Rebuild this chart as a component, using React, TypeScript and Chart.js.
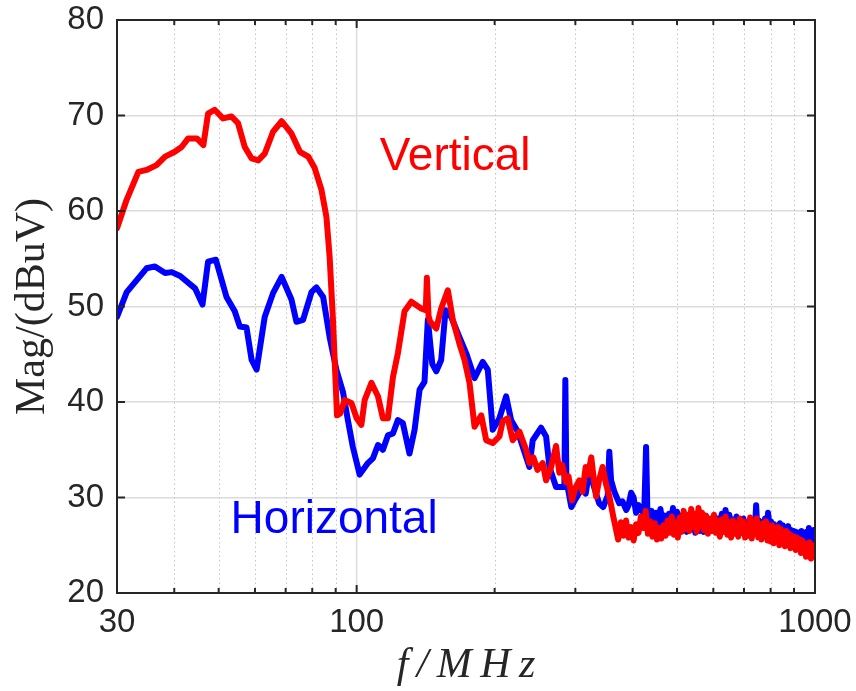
import { useEffect, useRef } from 'react';
import { Chart, registerables } from 'chart.js';

Chart.register(...registerables);

// Vertical polarisation (red)
const vertFreq = [
  30, 31.5, 33.4, 34.8, 36.6, 38.2, 40.1, 41.5, 42.9, 44.8, 46.3, 47.4, 49.0, 51.1, 53.3, 55.1, 57.0, 59.0,
  61.0, 63.0, 65.7, 68.6, 72.1, 75.2, 78.4, 81.0, 83.8, 85.9, 87.3, 88.8, 90.6, 92.1, 94.1, 97.4, 100,
  102.4, 104.1, 107.7, 111.3, 114.1, 117.0, 120.0, 123.0, 127.2, 131.6, 138.3, 141.5, 142.3, 143.5, 144.7,
  149.2, 152.9, 158.1, 162.1, 167.6, 171.9, 176.3, 180.8, 187.0, 191.7, 198.1, 204.9, 208.3, 213.6, 219.0,
  226.5, 234.3, 238.2, 243.0, 248.0, 254.6, 259.0, 265.0, 272.3, 276.8, 281.0, 286.0, 290.0, 295.0, 300.0,
  306.0, 311.0, 316.0, 320.0, 325.0, 329.0, 333.0, 338.0, 344.0, 350.0, 356.0, 363.0,
  372, 377, 382, 387, 392, 397, 402, 407, 412, 417, 422, 427, 432, 437, 442, 447, 452, 457, 462, 467,
  472, 477, 482, 487, 492, 497, 502, 507, 512, 517, 522, 527, 532, 537, 542, 547, 552, 557, 562, 567,
  572, 578, 584, 590, 596, 602, 608, 614, 620, 626, 632, 638, 644, 650, 656, 662, 668, 674, 680, 686,
  692, 698, 704, 710, 716, 722, 728, 734, 740, 746, 752, 758, 764, 770, 776, 782, 788, 794, 800, 806,
  812, 818, 824, 830, 836, 842, 848, 854, 860, 866, 872, 878, 884, 890, 896, 902, 908, 914, 920, 926,
  932, 938, 944, 950, 956, 962, 968, 974, 980, 986, 992, 996, 1000,
];
const vertMag = [
  58.2, 61.2, 64.1, 64.3, 64.8, 65.7, 66.2, 66.7, 67.6, 67.6, 66.9, 70.2, 70.6, 69.7, 69.9, 69.2, 66.7, 65.5,
  65.3, 66.0, 68.3, 69.4, 68.1, 66.2, 65.7, 64.5, 62.2, 59.4, 55.2, 48.5, 38.6, 38.8, 40.2, 39.9, 38.3,
  37.6, 40.2, 42.0, 40.6, 38.3, 38.3, 42.6, 45.1, 49.5, 50.5, 49.8, 49.6, 53.0, 49.0, 48.4,
  47.7, 49.8, 51.7, 48.6, 46.1, 44.4, 42.0, 37.4, 38.6, 36.0, 35.7, 36.4, 38.0, 38.3, 36.0,
  36.9, 35.0, 33.6, 34.2, 32.9, 33.6, 31.8, 33.0, 35.4, 32.6, 33.4, 31.6, 32.2, 29.7, 31.0,
  31.8, 30.6, 33.2, 32.4, 34.2, 32.0, 30.1, 31.8, 33.2, 31.4, 30.1, 28.0,
  25.6, 27.4, 26.0, 27.6, 25.8, 26.9, 25.5, 27.2, 26.3, 28.0, 26.8, 28.6, 26.2, 27.5, 25.9, 27.3, 25.6, 26.8, 25.7, 27.1,
  26.0, 27.6, 26.3, 28.0, 26.1, 27.4, 25.8, 27.9, 26.4, 28.6, 26.7, 28.2, 26.5, 28.8, 26.9, 28.3, 26.4, 28.9, 27.0, 28.4,
  26.6, 28.1, 26.2, 27.8, 26.5, 28.2, 26.3, 27.6, 25.9, 27.7, 26.4, 28.0, 26.1, 27.4, 25.8, 27.6, 26.2, 27.3, 25.9, 27.8,
  26.3, 27.5, 25.8, 27.1, 26.0, 27.9, 25.7, 27.4, 26.2, 27.8, 25.8, 27.0, 25.6, 27.3, 26.0, 27.5, 25.5, 26.9, 25.4, 27.1,
  25.2, 26.6, 25.5, 26.9, 25.0, 26.7, 25.3, 26.4, 24.9, 26.5, 25.1, 26.2, 24.7, 26.0, 24.8, 25.9, 24.5, 25.8, 24.6, 25.6,
  24.2, 25.5, 24.4, 25.2, 23.8, 25.0, 24.0, 25.3, 23.6, 24.8, 23.8, 25.0, 24.2,
];

// Horizontal polarisation (blue)
const horizFreq = [
  30, 31.5, 34.8, 36.3, 38.2, 39.5, 41.2, 44.4, 46.1, 47.4, 49.3, 52.0, 54.2, 55.6, 57.5, 59.0, 60.5,
  63.0, 65.7, 68.6, 72.1, 73.9, 76.4, 79.7, 81.7, 84.5, 87.3, 90.3, 93.4, 95.7, 98.1, 101.5, 105.8,
  108.5, 111.3, 114.1, 117.0, 120.0, 123.0, 126.1, 130.4, 133.8, 137.2, 140.6, 143.0, 146.2, 149.2,
  152.9, 156.3, 160.8, 167.6, 173.4, 180.8, 188.4, 193.2, 198.1, 204.9, 211.9, 217.3, 224.6, 238.2,
  242.2, 252.6, 259.0, 263.4, 272.3, 283.9, 285.3, 286.8, 294, 300, 306, 312, 316, 322, 330, 338, 345,
  353, 355.8, 359, 365, 374, 380, 387.5, 392, 397, 402, 407, 412, 418, 424, 428, 431,
  435, 440, 445, 450, 455, 460, 465, 470, 475, 480, 485, 490, 495, 500, 505, 510, 515, 520, 525, 530,
  536, 542, 548, 554, 560, 566, 572, 578, 584, 590, 596, 602, 608, 614, 620, 626, 632, 638, 644, 650,
  656, 662, 668, 674, 680, 686, 692, 698, 704, 710, 716, 722, 728, 734, 740, 744, 748, 754, 760, 766,
  772, 778, 784, 790, 796, 802, 808, 814, 820, 826, 832, 838, 844, 850, 856, 862, 868, 874, 880, 886,
  892, 898, 904, 910, 916, 922, 928, 934, 940, 946, 952, 958, 964, 970, 976, 982, 988, 994, 1000,
];
const horizMag = [
  48.9, 51.5, 54.0, 54.2, 53.5, 53.6, 53.2, 51.9, 50.2, 54.7, 54.9, 51.0, 49.5, 47.9, 47.8, 44.4, 43.4,
  48.9, 51.4, 53.1, 50.7, 48.4, 48.6, 51.5, 52.0, 51.0, 46.8, 43.4, 41.0, 38.1, 35.3, 32.4, 33.6,
  34.1, 35.5, 35.0, 36.5, 36.7, 38.1, 37.8, 34.6, 37.1, 41.3, 42.1, 48.6, 44.0, 43.2,
  44.4, 49.6, 48.9, 46.8, 45.1, 42.5, 44.2, 43.4, 37.1, 38.3, 40.6, 38.1, 36.9, 33.2,
  36.0, 37.3, 36.4, 33.2, 31.1, 31.1, 42.3, 31.8, 29.0, 29.8, 30.5, 31.2, 30.4, 32.9, 31.0, 29.4, 29.0,
  30.2, 34.8, 31.8, 30.6, 29.4, 29.6, 28.7, 29.2, 30.5, 30.0, 28.4, 29.2, 28.6, 28.4, 35.3, 28.2,
  27.4, 28.6, 26.9, 28.4, 27.1, 28.8, 27.3, 28.1, 26.8, 28.3, 27.0, 28.9, 27.2, 28.5, 26.9, 28.1, 26.6, 27.8, 26.4, 28.0,
  26.7, 27.6, 26.3, 27.9, 26.5, 27.7, 26.4, 28.1, 26.8, 27.6, 26.5, 28.0, 26.9, 27.8, 26.6, 28.3, 26.8, 28.7, 26.7, 28.2,
  26.9, 27.7, 26.4, 28.0, 26.6, 27.5, 26.3, 27.8, 26.5, 27.4, 26.2, 27.7, 26.6, 27.5, 26.9, 29.2, 27.0, 27.6, 26.5, 27.4,
  26.6, 27.8, 26.3, 28.4, 26.9, 27.5, 26.4, 27.2, 25.8, 27.0, 26.2, 27.3, 26.0, 27.1, 25.7, 26.9, 26.2, 27.0, 25.8, 26.6,
  25.6, 26.5, 25.5, 26.4, 25.6, 26.3, 25.4, 26.5, 25.6, 26.2, 25.3, 26.4, 25.5, 26.8, 25.6, 26.4, 25.4, 26.6, 25.5,
];

const xTickValues = [30, 100, 1000];
const xMinorGrid = [40, 50, 60, 70, 80, 90, 200, 300, 400, 500, 600, 700, 800, 900];
const xMajorGrid = [100];
const yTickValues = [20, 30, 40, 50, 60, 70, 80];

const seriesNames = ['Vertical', 'Horizontal'];
const xTitle = 'f\u2009/\u2009M\u2009H\u2009z';
const yTitle = 'Mag/(dBuV)';

const AXIS_COLOR = '#262626';
const SANS = '"Liberation Sans", Arial, Helvetica, sans-serif';
const SERIF = '"Liberation Serif", "Times New Roman", serif';

const framePlugin = {
  id: 'frame',
  beforeDatasetsDraw(chart: any) {
    const { ctx, chartArea: a, scales } = chart;
    const x = scales.x;
    ctx.save();
    ctx.strokeStyle = '#c4c4c4';
    ctx.lineWidth = 1;
    ctx.setLineDash([1.5, 3]);
    for (const v of xMinorGrid) {
      const px = Math.round(x.getPixelForValue(v)) + 0.5;
      ctx.beginPath();
      ctx.moveTo(px, a.top);
      ctx.lineTo(px, a.bottom);
      ctx.stroke();
    }
    ctx.setLineDash([]);
    ctx.strokeStyle = '#dcdcdc';
    ctx.lineWidth = 1.5;
    for (const v of xMajorGrid) {
      const px = x.getPixelForValue(v);
      ctx.beginPath();
      ctx.moveTo(px, a.top);
      ctx.lineTo(px, a.bottom);
      ctx.stroke();
    }
    ctx.restore();
  },
  afterDatasetsDraw(chart: any) {
    const { ctx, chartArea: a, scales } = chart;
    const x = scales.x;
    const y = scales.y;
    ctx.save();
    ctx.strokeStyle = AXIS_COLOR;
    ctx.lineWidth = 2;
    ctx.beginPath();
    for (const v of yTickValues) {
      const py = y.getPixelForValue(v);
      ctx.moveTo(a.left, py);
      ctx.lineTo(a.left + 8, py);
      ctx.moveTo(a.right, py);
      ctx.lineTo(a.right - 8, py);
    }
    for (const v of xMinorGrid) {
      const px = x.getPixelForValue(v);
      ctx.moveTo(px, a.bottom);
      ctx.lineTo(px, a.bottom - 5);
      ctx.moveTo(px, a.top);
      ctx.lineTo(px, a.top + 5);
    }
    for (const v of xTickValues) {
      const px = x.getPixelForValue(v);
      ctx.moveTo(px, a.bottom);
      ctx.lineTo(px, a.bottom - 8);
      ctx.moveTo(px, a.top);
      ctx.lineTo(px, a.top + 8);
    }
    ctx.stroke();
    ctx.strokeRect(a.left, a.top, a.right - a.left, a.bottom - a.top);
    ctx.font = `46px ${SANS}`;
    ctx.textAlign = 'center';
    ctx.textBaseline = 'alphabetic';
    ctx.fillStyle = '#ff0000';
    ctx.fillText(seriesNames[0], x.getPixelForValue(164), y.getPixelForValue(64.3));
    ctx.fillStyle = '#0000ff';
    ctx.fillText(seriesNames[1], x.getPixelForValue(89.3), y.getPixelForValue(26.3));
    ctx.restore();
  },
};

export default function App() {
  const canvasRef = useRef<HTMLCanvasElement | null>(null);

  useEffect(() => {
    const canvas = canvasRef.current;
    if (!canvas) return;
    const tickFont = { family: SANS, size: 33 };
    const chart = new Chart(canvas, {
      type: 'line',
      data: {
        datasets: [
          {
            label: seriesNames[0],
            data: vertFreq.map((f, i) => ({ x: f, y: vertMag[i] })),
            borderColor: '#ff0000',
            backgroundColor: '#ff0000',
          },
          {
            label: seriesNames[1],
            data: horizFreq.map((f, i) => ({ x: f, y: horizMag[i] })),
            borderColor: '#0000ff',
            backgroundColor: '#0000ff',
          },
        ],
      },
      options: {
        responsive: false,
        animation: false,
        events: [],
        layout: { padding: { left: 0, right: 41, top: 20, bottom: 0 } },
        plugins: { legend: { display: false }, tooltip: { enabled: false } },
        elements: {
          point: { radius: 0 },
          line: { tension: 0, borderWidth: 6, borderJoinStyle: 'round', borderCapStyle: 'round' },
        },
        scales: {
          x: {
            type: 'logarithmic',
            min: 30,
            max: 1000,
            afterBuildTicks: (s: any) => {
              s.ticks = xTickValues.map((v) => ({ value: v }));
            },
            afterFit: (s: any) => {
              s.height = 98;
              s.paddingLeft = 0;
              s.paddingRight = 0;
            },
            grid: { display: false, drawTicks: false },
            border: { display: false },
            ticks: {
              font: tickFont,
              color: AXIS_COLOR,
              padding: 10,
              maxRotation: 0,
              autoSkip: false,
              callback: (v: any) => String(v),
            },
            title: {
              display: true,
              text: xTitle,
              font: { family: SERIF, size: 42, style: 'italic' },
              color: AXIS_COLOR,
              padding: 0,
            },
          },
          y: {
            type: 'linear',
            min: 20,
            max: 80,
            afterBuildTicks: (s: any) => {
              s.ticks = yTickValues.map((v) => ({ value: v }));
            },
            afterFit: (s: any) => {
              s.width = 117;
              s.paddingTop = 0;
              s.paddingBottom = 0;
            },
            grid: { color: '#dcdcdc', lineWidth: 1.5, drawTicks: false },
            border: { display: false },
            ticks: {
              font: tickFont,
              color: AXIS_COLOR,
              padding: 13,
              callback: (v: any) => String(v),
            },
            title: {
              display: true,
              text: yTitle,
              font: { family: SERIF, size: 42 },
              color: AXIS_COLOR,
              padding: { top: 8, bottom: 0 },
            },
          },
        },
      },
      plugins: [framePlugin],
    } as any);
    return () => chart.destroy();
  }, []);

  return (
    <div style={{ position: 'absolute', left: 0, top: 0, width: 856, height: 691, background: '#fff' }}>
      <canvas ref={canvasRef} width={856} height={691} />
    </div>
  );
}
